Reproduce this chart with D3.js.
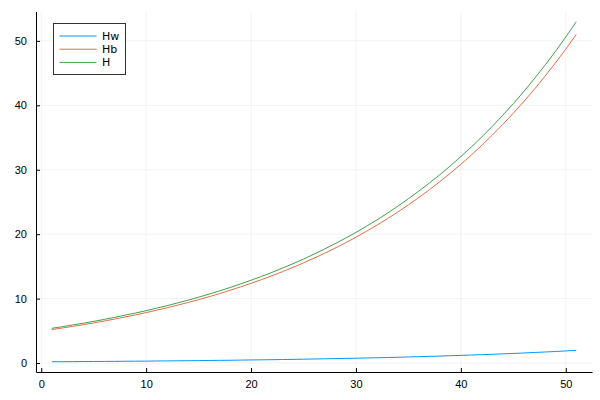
<!DOCTYPE html>
<html>
<head>
<meta charset="utf-8">
<script src="https://cdn.jsdelivr.net/npm/d3@7"></script>
<style>
  body { margin: 0; background: #fff; }
  svg { display: block; font-family: "DejaVu Sans", sans-serif; }
  .tick text { font-size: 11px; fill: #000; }
  .legend text { font-size: 11px; fill: #000; }
</style>
</head>
<body>
<svg width="600" height="400"></svg>
<script>
var xs = d3.range(1, 52);

var hw = [0.20,0.21,0.22,0.23,0.24,0.25,0.26,0.28,0.29,0.30,0.32,0.33,0.35,0.36,0.38,0.40,0.42,0.43,0.46,0.48,
  0.50,0.52,0.55,0.57,0.60,0.63,0.66,0.69,0.72,0.75,0.79,0.82,0.86,0.90,0.95,0.99,1.04,1.08,1.14,1.19,
  1.24,1.30,1.36,1.43,1.49,1.56,1.64,1.71,1.79,1.88,1.97];

var hb = [5.19,5.43,5.69,5.95,6.23,6.52,6.83,7.15,7.48,7.83,8.20,8.58,8.98,9.40,9.84,10.30,10.78,11.29,11.82,12.37,
  12.95,13.55,14.19,14.85,15.54,16.27,17.03,17.83,18.66,19.53,20.45,21.40,22.40,23.45,24.55,25.70,26.90,28.15,29.47,30.85,
  32.29,33.80,35.38,37.04,38.77,40.58,42.48,44.47,46.55,48.72,51.00];

var h = [5.39,5.64,5.91,6.18,6.47,6.77,7.09,7.43,7.77,8.13,8.52,8.91,9.33,9.76,10.22,10.70,11.20,11.72,12.28,12.85,
  13.45,14.07,14.74,15.42,16.14,16.90,17.69,18.52,19.38,20.28,21.24,22.22,23.26,24.35,25.50,26.69,27.94,29.23,30.61,32.04,
  33.53,35.10,36.74,38.47,40.26,42.14,44.12,46.18,48.34,50.60,52.97];

var seriesNames = ["Hw", "Hb", "H"];
var seriesColors = ["#009AFA", "#E26F46", "#3EA44E"];
var xTicks = [0, 10, 20, 30, 40, 50];
var yTicks = [0, 10, 20, 30, 40, 50];

var series = [hw, hb, h];

var pArea = [36, 11.5, 592, 372];   // left, top, right, bottom

var xScale = d3.scaleLinear()
  .domain([-0.5, 52.5])
  .range([pArea[0], pArea[2]]);

var yScale = d3.scaleLinear()
  .domain([-1.39, 54.56])
  .range([pArea[3], pArea[1]]);

var svg = d3.select("svg");
var g = svg.append("g");

// grid
g.append("g")
  .selectAll("line")
  .data(xTicks)
  .enter().append("line")
    .attr("x1", d => xScale(d)).attr("x2", d => xScale(d))
    .attr("y1", pArea[1]).attr("y2", pArea[3])
    .attr("stroke", "#000").attr("stroke-opacity", 0.1).attr("stroke-width", 0.5);

g.append("g")
  .selectAll("line")
  .data(yTicks)
  .enter().append("line")
    .attr("x1", pArea[0]).attr("x2", pArea[2])
    .attr("y1", d => yScale(d)).attr("y2", d => yScale(d))
    .attr("stroke", "#000").attr("stroke-opacity", 0.1).attr("stroke-width", 0.5);

// x-axis
var xAxis = g.append("g")
  .attr("transform", `translate(0,${pArea[3]})`)
  .call(d3.axisBottom(xScale).tickValues(xTicks).tickSizeInner(-4).tickSizeOuter(0).tickPadding(8));
xAxis.select(".domain").attr("stroke", "#000").attr("stroke-width", 1);

// y-axis
var yAxis = g.append("g")
  .attr("transform", `translate(${pArea[0]},0)`)
  .call(d3.axisLeft(yScale).tickValues(yTicks).tickSizeInner(-4).tickSizeOuter(0).tickPadding(9));
yAxis.select(".domain").attr("stroke", "#000").attr("stroke-width", 1);

g.selectAll(".tick line").attr("stroke", "#000");
g.selectAll(".tick text").attr("font-family", null).attr("font-size", null);

// lines
var line = d3.line()
  .x((d, i) => xScale(xs[i]))
  .y(d => yScale(d));

series.forEach(function(s, i) {
  g.append("path")
    .datum(s)
    .attr("fill", "none")
    .attr("stroke", seriesColors[i])
    .attr("stroke-width", 1)
    .attr("d", line);
});

// legend
var legend = g.append("g").attr("class", "legend");
legend.append("rect")
  .attr("x", 53.5).attr("y", 23.5)
  .attr("width", 72).attr("height", 51)
  .attr("fill", "#fff").attr("stroke", "#333").attr("stroke-width", 1);

seriesNames.forEach(function(name, i) {
  var yy = 36 + i * 13.2;
  legend.append("line")
    .attr("x1", 59.5).attr("x2", 96.5)
    .attr("y1", yy).attr("y2", yy)
    .attr("stroke", seriesColors[i]).attr("stroke-width", 1);
  legend.append("text")
    .attr("x", 102)
    .attr("y", yy)
    .attr("dy", "0.36em")
    .text(name);
});
</script>
</body>
</html>
